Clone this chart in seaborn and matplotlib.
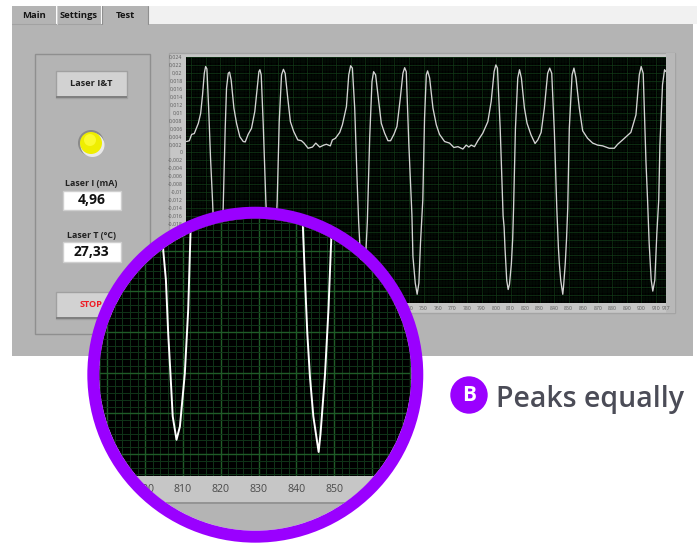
"""
Laser test panel with a magnified view of the trace and its lower peaks
"""

import numpy as np
import matplotlib
matplotlib.use('Agg')
import matplotlib.pyplot as plt
from matplotlib.patches import Circle, Rectangle
import seaborn as sns

# Trace: wavelength-like x axis, signal in thousandths
trace_x = [
    586.8, 588.7, 590.3, 592.1, 594.9, 596.5, 597.8, 599.0, 599.9, 600.8, 602.0, 603.3, 604.7, 606.5, 608.4, 610.3,
    612.0, 613.4, 614.3, 615.5, 616.4, 617.5, 619.4, 621.2, 623.5, 625.8, 627.2, 629.2, 631.5, 633.8, 635.4, 636.6,
    637.3, 638.2, 639.6, 641.4, 643.3, 645.3, 647.3, 649.2, 650.6, 652.2, 653.5, 654.7, 656.5, 658.3, 660.6, 663.4,
    665.9, 667.7, 670.5, 673.5, 675.8, 678.5, 681.3, 683.1, 685.8, 687.2, 689.3, 692.3, 694.1, 696.9, 698.5, 699.8,
    701.0, 702.6, 704.2, 705.3, 706.8, 708.3, 709.9, 711.3, 712.9, 714.5, 715.6, 717.0, 719.1, 720.9, 723.2, 725.5,
    727.3, 729.6, 731.7, 734.0, 735.8, 737.0, 738.1, 739.9, 742.0, 742.7, 744.3, 745.6, 746.8, 747.9, 749.5, 750.7,
    751.9, 752.8, 754.2, 756.5, 758.8, 761.0, 764.5, 767.9, 770.9, 773.7, 777.1, 779.4, 781.2, 782.8, 785.1, 787.4,
    790.8, 794.3, 796.6, 798.6, 799.8, 800.9, 802.8, 804.8, 805.5, 806.1, 806.7, 807.3, 808.3, 809.2, 810.5, 811.4,
    812.0, 813.3, 814.9, 816.1, 817.4, 819.5, 821.3, 824.0, 826.8, 828.7, 831.0, 833.2, 835.5, 836.9, 838.3, 840.1,
    841.8, 842.3, 842.9, 843.6, 844.5, 845.9, 846.4, 847.6, 848.5, 849.3, 850.4, 852.3, 853.6, 855.0, 857.3, 859.6,
    863.0, 866.5, 869.9, 873.4, 877.9, 881.4, 883.7, 887.1, 892.8, 896.3, 898.6, 899.9, 901.3, 903.2, 904.3, 905.4,
    906.8, 907.9, 909.3, 910.7, 912.0, 912.8, 914.6, 916.0, 917.0,
]
trace_y = [
    2.7, 2.9, 4.5, 4.7, 7.3, 9.8, 14.5, 19.9, 21.6, 21.0, 11.1, -1.5, -12.4, -28.0, -34.5, -28.0,
    -14.1, 6.0, 16.1, 19.9, 20.2, 18.2, 11.1, 7.3, 3.9, 2.7, 2.6, 4.5, 6.0, 10.3, 16.1, 20.3,
    20.8, 19.5, 6.9, -12.4, -28.0, -35.0, -28.0, -12.4, 7.7, 19.5, 20.9, 19.9, 13.6, 7.7, 5.2, 3.1,
    2.9, 2.3, 1.0, 1.3, 2.3, 1.3, 1.8, 2.0, 1.6, 3.1, 3.5, 5.0, 6.9, 11.5, 19.5, 21.8,
    21.2, 11.1, -6.6, -17.5, -28.0, -35.0, -28.0, -17.5, 3.5, 17.8, 20.3, 19.5, 12.8, 7.3, 4.8, 2.9,
    2.9, 4.5, 6.5, 13.6, 19.9, 21.3, 20.3, 1.8, -15.8, -26.3, -33.0, -35.8, -33.0, -22.9, -12.0, 8.6,
    19.5, 20.5, 18.7, 11.1, 6.9, 4.5, 2.7, 2.3, 1.2, 1.4, 0.8, 1.8, 1.3, 1.8, 1.4, 2.9,
    4.8, 7.7, 12.8, 20.3, 22.0, 21.2, 6.0, -16.0, -18.9, -24.1, -28.1, -32.3, -34.6, -33.3, -28.1, -21.8,
    -14.3, 6.0, 18.7, 20.8, 18.7, 11.1, 7.3, 4.4, 2.2, 3.1, 5.0, 11.1, 19.9, 21.2, 19.9, 5.2,
    -14.3, -18.9, -24.1, -28.4, -32.3, -35.8, -34.0, -28.1, -21.8, -14.3, 6.0, 19.5, 21.2, 18.7, 11.1, 5.4,
    3.5, 2.3, 1.8, 1.6, 1.0, 1.0, 2.0, 3.1, 5.0, 9.4, 19.5, 21.6, 19.9, -2.4, -12.0, -22.9,
    -32.2, -35.0, -32.2, -20.4, -12.0, 1.8, 17.0, 20.8, 20.3,
]

main_xticks = list(range(590, 920, 10)) + [917]
inset_xticks = [790, 800, 810, 820, 830, 840, 850, 860, 870]
inset_xlabels = ['', '800', '810', '820', '830', '840', '850', '', '']
y_ticks = list(range(-38, 26, 2))
tab_names = ['Main', 'Settings', 'Test']
laser_current = '4,96'
laser_temp = '27,33'

PANEL = '#b4b4b4'
FRAME = '#c6c6c6'
PURPLE = '#9a00ff'
W, H = 697, 544


def axes_at(fig, left, top, right, bottom, **kw):
    """Axes placed by pixel box, measured from the top left of the figure"""
    return fig.add_axes([left / W, 1 - bottom / H, (right - left) / W, (bottom - top) / H], **kw)


def y_label(v):
    if v == 0:
        return '0'
    return f"{v / 1000:.3f}".replace('.', ',').rstrip('0')


def style_grid(ax, major, minor, major_lw, minor_lw):
    ax.set_facecolor('black')
    ax.xaxis.set_minor_locator(plt.MultipleLocator(2))
    ax.yaxis.set_minor_locator(plt.MultipleLocator(4 / 6))
    ax.grid(True, which='major', color=major, linewidth=major_lw)
    ax.grid(True, which='minor', color=minor, linewidth=minor_lw)
    ax.set_axisbelow(True)
    ax.tick_params(which='minor', length=0)
    ax.set_xlabel('')
    ax.set_ylabel('')
    for spine in ax.spines.values():
        spine.set_visible(False)


def button(bg, left, top, right, bottom, label, color):
    bg.add_patch(Rectangle((left, top), right - left, bottom - top, fc='#d2d2d2', ec='#a0a0a0', lw=1))
    bg.add_patch(Rectangle((left, bottom - 2), right - left, 2, fc='#808080', ec='none'))
    bg.text((left + right) / 2, (top + bottom) / 2 - 1, label, color=color, ha='center', va='center',
            fontsize=6.6, fontweight='bold')


def readout(bg, label, value, label_y, top, bottom):
    bg.text(91.5, label_y, label, color='#222222', ha='center', va='center', fontsize=6.4, fontweight='bold')
    bg.add_patch(Rectangle((63, top), 57.5, bottom - top, fc='white', ec='#cfcfcf', lw=1))
    bg.text(91.5, (top + bottom) / 2, value, color='#111111', ha='center', va='center',
            fontsize=10, fontweight='bold')


sns.set_theme(style='white')
plt.rcParams['font.family'] = ['Open Sans', 'DejaVu Sans']

fig = plt.figure(figsize=(W / 100, H / 100), dpi=100, facecolor='white')

# Window background, tabs and the left control column
bg = axes_at(fig, 0, 0, W, H, zorder=0)
bg.set_xlim(0, W)
bg.set_ylim(H, 0)
bg.axis('off')
bg.add_patch(Rectangle((12, 24), 681, 332, fc=PANEL, ec='none'))
bg.add_patch(Rectangle((148, 6), 549, 18, fc='#f1f1f1', ec='none'))
for (left, right), name in zip([(12, 56), (57, 101), (102, 148)], tab_names):
    bg.add_patch(Rectangle((left, 6), right - left, 18, fc=PANEL, ec='none'))
    if name != 'Test':
        bg.plot([left, right], [23.5, 23.5], color='#a2a2a2', lw=0.8)
    bg.text((left + right) / 2, 15, name, color='#151515', ha='center', va='center',
            fontsize=6.8, fontweight='bold')
bg.plot([56.5, 56.5], [6, 24], color='#d0d0d0', lw=0.8)
bg.plot([101.5, 101.5], [6, 24], color='#8f8f8f', lw=0.8)
bg.plot([148, 148], [6, 24], color='#8f8f8f', lw=0.8)
bg.add_patch(Rectangle((34.5, 53.5), 115.5, 280, fc='none', ec='#8f8f8f', lw=1))
button(bg, 56, 71, 127, 98, 'Laser I&T', '#222222')
button(bg, 56, 292, 127, 319, 'STOP', '#ee1c25')
bg.add_patch(Circle((91, 143), 13, fc='#8a8a8a', ec='none'))
bg.add_patch(Circle((92.5, 145), 12, fc='#e9e9e9', ec='none'))
bg.add_patch(Circle((91, 143), 11, fc='#efee00', ec='none'))
bg.add_patch(Circle((90, 140), 6, fc='#fbfa30', ec='none'))
readout(bg, 'Laser I (mA)', laser_current, 183, 190.5, 210)
readout(bg, 'Laser T (°C)', laser_temp, 235, 241.5, 262)
bg.add_patch(Rectangle((169, 53), 506, 260, fc=FRAME, ec='#a4a4a4', lw=1))
bg.add_patch(Rectangle((666, 53), 9, 260, fc='#b8b8b8', ec='none'))

# Full trace on the screen
ax = axes_at(fig, 186, 57, 666, 303, zorder=1)
sns.lineplot(x=trace_x, y=trace_y, ax=ax, sort=False, estimator=None, color='#d4d4d4', linewidth=0.95)
ax.set_xlim(586.4, 917)
ax.set_ylim(-38, 24)
ax.set_xticks(main_xticks)
ax.set_xticklabels([str(t) for t in main_xticks])
ax.set_yticks(y_ticks)
ax.set_yticklabels([y_label(v) for v in y_ticks])
style_grid(ax, '#123c18', '#081c0b', 0.5, 0.35)
ax.tick_params(axis='both', which='major', labelsize=3.7, labelcolor='#5a5a5a', length=1.5, width=0.4,
               color='#555555', pad=1)

# Disk behind the magnified view, axis band included
disk = axes_at(fig, 0, 0, W, H, zorder=2)
disk.set_xlim(0, W)
disk.set_ylim(H, 0)
disk.axis('off')
lens = Circle((255.3, 374.7), 156, transform=disk.transData)
disk.add_patch(Circle((255.3, 374.7), 156, fc=PANEL, ec='none'))
band = Rectangle((90, 476), 340, 26, fc=FRAME, ec='none')
edge = Rectangle((90, 502), 340, 2.2, fc='#949494', ec='none')
disk.add_patch(band)
disk.add_patch(edge)
band.set_clip_path(lens)
edge.set_clip_path(lens)

# Magnified view of the two lower peaks
inset = axes_at(fig, 99, 218, 412, 476, zorder=3)
sns.lineplot(x=trace_x, y=trace_y, ax=inset, sort=False, estimator=None, color='white', linewidth=1.4)
inset.set_xlim(787.8, 870.6)
inset.set_ylim(-38.16, -12.8)
inset.set_xticks(inset_xticks)
inset.set_xticklabels(inset_xlabels)
inset.set_yticks([-36, -32, -28, -24, -20, -16])
inset.set_yticklabels([])
style_grid(inset, '#1f5c28', '#103418', 1.0, 0.7)
inset.tick_params(axis='x', which='major', labelsize=7.6, labelcolor='#4a4a4a', length=4, width=0.9,
                  color='#222222', pad=2)
inset.tick_params(axis='y', which='major', length=0)
inset.patch.set_clip_path(lens)
for artist in inset.get_lines():
    artist.set_clip_path(lens)
for tick in inset.xaxis.get_major_ticks() + inset.xaxis.get_minor_ticks() \
        + inset.yaxis.get_major_ticks() + inset.yaxis.get_minor_ticks():
    tick.gridline.set_clip_path(lens)
    tick.tick1line.set_clip_path(lens)

# Ring and the caption beside it
top = axes_at(fig, 0, 0, W, H, zorder=4)
top.set_xlim(0, W)
top.set_ylim(H, 0)
top.axis('off')
top.add_patch(Circle((255.3, 374.7), 162, fc='none', ec=PURPLE, lw=8.6))
top.add_patch(Circle((469, 395), 18.7, fc=PURPLE, ec='none'))
top.text(469, 395.5, 'B', color='white', ha='center', va='center', fontsize=15, fontweight='bold')
top.text(496, 399, 'Peaks equally', color='#4b4c57', ha='left', va='center', fontsize=20.5, fontweight='semibold')

plt.savefig('out.png', dpi=100, facecolor='white')
